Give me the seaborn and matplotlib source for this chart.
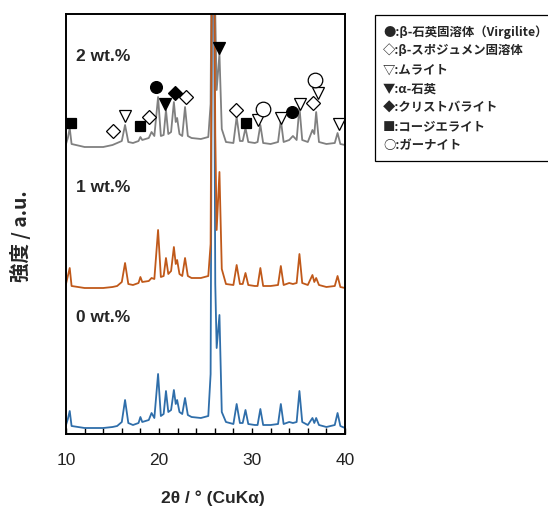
import matplotlib
matplotlib.use("Agg")
import matplotlib.pyplot as plt
import matplotlib.patches as patches
from matplotlib.ticker import MultipleLocator
import seaborn as sns
import pandas as pd

# XRD patterns (vertices of each trace, offsets included)
two_theta = [10.0, 10.2, 10.4, 10.6, 12.0, 14.0, 15.0, 15.5, 16.0, 16.35,
             16.7, 17.2, 17.8, 18.0, 18.2, 18.9, 19.2, 19.5, 19.9, 20.2,
             20.5, 20.75, 21.0, 21.3, 21.6, 21.8, 21.95, 22.2, 22.5, 22.8,
             23.1, 23.5, 24.5, 25.3, 25.55, 25.8, 26.05, 26.2, 26.5, 26.75,
             27.2, 28.0, 28.35, 28.7, 29.0, 29.3, 29.6, 30.3, 30.6, 30.9,
             31.2, 32.0, 32.8, 33.1, 33.4, 34.0, 34.4, 34.8, 35.1, 35.4,
             36.0, 36.5, 36.7, 36.9, 37.2, 38.0, 38.9, 39.2, 39.5, 40.0]

i_0wt = [9, 15, 23, 8, 6, 6, 7, 8, 12, 34,
         11, 9, 11, 17, 12, 14, 21, 16, 60, 18,
         20, 43, 22, 24, 44, 30, 34, 22, 20, 36,
         19, 17, 16, 18, 60, 700, 150, 86, 119, 22,
         12, 10, 30, 11, 11, 24, 10, 9, 9, 25,
         9, 9, 10, 30, 10, 12, 11, 12, 43, 12,
         9, 16, 11, 16, 9, 7, 9, 21, 8, 6]

i_1wt = [150, 158, 166, 148, 146, 146, 147, 148, 152, 171,
         150, 149, 151, 157, 152, 153, 156, 155, 204, 157,
         158, 176, 160, 163, 187, 170, 174, 160, 158, 176,
         158, 156, 156, 158, 190, 700, 300, 204, 262, 165,
         150, 149, 169, 150, 150, 161, 149, 148, 148, 166,
         148, 148, 149, 168, 149, 151, 150, 151, 180, 151,
         149, 159, 152, 156, 149, 147, 148, 158, 147, 146]

i_2wt = [290, 296, 306, 290, 287, 287, 289, 291, 293, 309,
         292, 291, 293, 297, 294, 296, 302, 298, 337, 298,
         299, 324, 300, 302, 332, 312, 316, 300, 298, 327,
         298, 296, 295, 297, 330, 700, 420, 344, 380, 305,
         292, 291, 317, 293, 293, 306, 292, 291, 292, 309,
         291, 290, 292, 314, 292, 294, 298, 294, 327, 294,
         292, 304, 300, 322, 292, 290, 291, 301, 290, 289]

samples = ["0 wt.%", "1 wt.%", "2 wt.%"]
sample_label_y = [116, 246, 377]
colors = {"0 wt.%": "#2F6EAA", "1 wt.%": "#C0591A", "2 wt.%": "#808080"}

# phase markers on the 2 wt.% pattern (2theta, height)
virgilite_x = [19.7, 34.35]
virgilite_y = [347, 322]
spodumene_x = [15.1, 18.95, 22.9, 28.3, 36.6]
spodumene_y = [303, 317, 337, 324, 331]
mullite_x = [16.35, 30.6, 33.15, 35.2, 37.1, 39.4]
mullite_y = [318, 314, 316, 330, 341, 310]
quartz_x = [20.6, 26.5]
quartz_y = [330, 386]
cristobalite_x = [21.7]
cristobalite_y = [341]
cordierite_x = [10.5, 18.0, 29.35]
cordierite_y = [311, 308, 311]
gahnite_x = [31.2, 36.8]
gahnite_y = [325, 354]

legend_lines = [
    "●:β-石英固溶体（Virgilite）",
    "◇:β-スポジュメン固溶体",
    "▽:ムライト",
    "▼:α-石英",
    "◆:クリストバライト",
    "■:コージエライト",
    "○:ガーナイト",
]

df = pd.DataFrame({
    "two_theta": two_theta * 3,
    "intensity": i_0wt + i_1wt + i_2wt,
    "sample": [s for s in samples for _ in two_theta],
})

sns.set_theme(style="white")
plt.rcParams["font.family"] = ["Liberation Sans", "DejaVu Sans"]
cjk = ["Noto Sans CJK JP", "DejaVu Sans"]

fig = plt.figure(figsize=(5.48, 5.07), dpi=100)
ax = fig.add_axes([66 / 548, 73 / 507, 279 / 548, 420 / 507])

sns.lineplot(data=df, x="two_theta", y="intensity", hue="sample",
             hue_order=["2 wt.%", "0 wt.%", "1 wt.%"], palette=colors,
             estimator=None, sort=False, legend=False, linewidth=1.3, ax=ax)

mk = dict(ls="none", mec="black", mew=0.9)
ax.plot(virgilite_x, virgilite_y, marker="o", ms=8.5, mfc="black", **mk)
ax.plot(spodumene_x, spodumene_y, marker="D", ms=7.5, mfc="white", **mk)
ax.plot(mullite_x, mullite_y, marker="v", ms=8.5, mfc="white", **mk)
ax.plot(quartz_x, quartz_y, marker="v", ms=8.5, mfc="black", **mk)
ax.plot(cristobalite_x, cristobalite_y, marker="D", ms=7.5, mfc="black", **mk)
ax.plot(cordierite_x, cordierite_y, marker="s", ms=7, mfc="black", **mk)
ax.plot(gahnite_x, gahnite_y, marker="o", ms=10.5, mfc="white", **mk)

for s, y in zip(samples, sample_label_y):
    ax.text(11.1, y, s, fontsize=12.5, fontweight="bold", va="center", ha="left")

ax.set_xlim(10, 40)
ax.set_ylim(0, 420)
ax.set_yticks([])
ax.xaxis.set_major_locator(MultipleLocator(10))
ax.xaxis.set_minor_locator(MultipleLocator(2))
ax.tick_params(axis="x", which="both", direction="in", length=4, width=1,
               bottom=True, top=False, color="black", pad=13.5,
               labelsize=12.5, labelcolor="#222222")
for sp in ax.spines.values():
    sp.set_color("black")
    sp.set_linewidth(1.4)

ax.set_xlabel("2θ / ° (CuKα)", fontsize=12.5, fontweight="bold", va="center")
ax.xaxis.set_label_coords(0.525, -0.152)
ax.set_ylabel("強度 / a.u.", family=cjk, fontsize=14, fontweight="bold", va="center")
ax.yaxis.set_label_coords(-0.165, 0.47)

# phase legend box, runs off the right edge like the original
fig.add_artist(patches.Rectangle((375 / 548, 1 - 161 / 507), 0.4, 146 / 507,
                                 transform=fig.transFigure, fc="white",
                                 ec="black", lw=0.9, clip_on=False))
for i, line in enumerate(legend_lines):
    fig.text(383 / 548, 1 - (32 + 19 * i) / 507, line, family=cjk,
             fontsize=8.9, fontweight="bold", va="center", ha="left")

fig.savefig("out.png", dpi=100)
